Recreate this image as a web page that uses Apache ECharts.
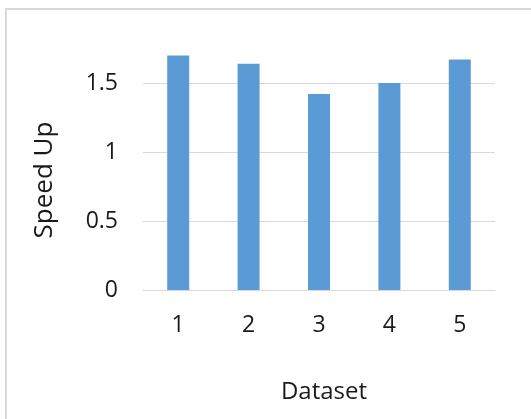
<!DOCTYPE html>
<html>
<head>
<meta charset="utf-8">
<script src="https://cdn.jsdelivr.net/npm/echarts@6/dist/echarts.min.js"></script>
<style>
html,body{margin:0;padding:0;background:#fff;}
#chart{width:531px;height:419px;}
</style>
</head>
<body>
<div id="chart"></div>
<script>
const categories = ['1', '2', '3', '4', '5'];
const speedUp = [1.70, 1.64, 1.42, 1.50, 1.67];
const xTitle = 'Dataset';
const yTitle = 'Speed Up';

const FONT = 'Open Sans';
const TEXT = '#1a1a1a';
const chart = echarts.init(document.getElementById('chart'), null, {renderer: 'canvas'});
chart.setOption({
  animation: false,
  backgroundColor: '#fff',
  grid: {left: 143, right: 36, top: 14, bottom: 129},
  xAxis: {
    type: 'category',
    data: categories,
    axisTick: {show: false},
    axisLine: {lineStyle: {color: '#d9d9d9', width: 1}},
    axisLabel: {color: TEXT, fontFamily: FONT, fontSize: 23, margin: 24},
    name: xTitle,
    nameLocation: 'middle',
    nameGap: 90,
    nameTextStyle: {color: TEXT, fontFamily: FONT, fontSize: 24, padding: [0, 0, 0, 10]}
  },
  yAxis: {
    type: 'value',
    min: 0, max: 2, interval: 0.5,
    axisLine: {show: false},
    axisTick: {show: false},
    axisLabel: {color: TEXT, fontFamily: FONT, fontSize: 23, margin: 25, showMaxLabel: false},
    splitLine: {lineStyle: {color: '#d9d9d9', width: 1}, showMaxLine: false}
  },
  series: [{
    type: 'bar',
    data: speedUp,
    barWidth: 22,
    itemStyle: {color: '#5b9bd5'}
  }],
  graphic: [
    {type: 'rect', shape: {x: 6, y: 9, width: 600, height: 500}, style: {fill: null, stroke: '#d9d9d9', lineWidth: 2}, silent: true},
    {type: 'text', x: 45, y: 180, rotation: Math.PI / 2,
     style: {text: yTitle, fill: TEXT, font: '26px "' + FONT + '"', textAlign: 'center', textVerticalAlign: 'middle'}}
  ]
});
</script>
</body>
</html>
